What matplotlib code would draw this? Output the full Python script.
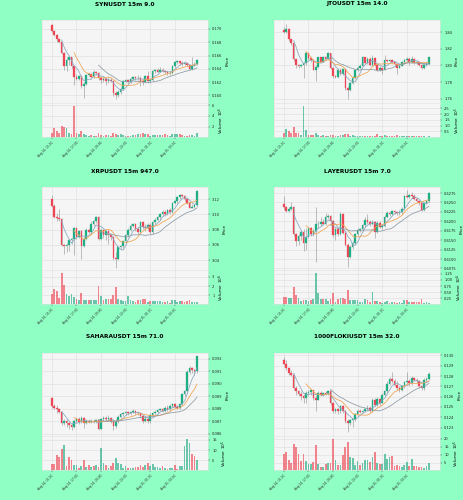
import numpy as np
import pandas as pd
import matplotlib.pyplot as plt
from matplotlib.ticker import FixedLocator, FormatStrFormatter

plt.rcParams['font.family'] = 'DejaVu Sans'

# colours
BG = '#8fffc4'
FACE = '#f5f5f5'
GRID = '#dddddd'
UP = '#1fae84'
DOWN = '#ef4655'
WICK = '#9a9a9a'
MAVS = (5, 10, 20)
MAV_COLORS = ['#8aa6bf', '#f0a24e', '#8c9aa4']

# 60 x 15m candles starting Aug 14 2025 15:00
times = pd.date_range('2025-08-14 15:00', periods=60, freq='15min')
tick_idx = [0, 10, 20, 30, 40, 50]
tick_labels = [times[i].strftime('%b %d, %H:%M') for i in tick_idx]

# ---------------- SYNUSDT ----------------
syn_title = 'SYNUSDT 15m 9.0'
syn_first_open = 0.1706
syn_close = [0.16975, 0.1691, 0.16845, 0.168, 0.16645, 0.16435, 0.16535, 0.16575, 0.16435, 0.1627,
             0.1625, 0.16285, 0.16135, 0.16175, 0.16305, 0.16315, 0.16275, 0.16355, 0.16335, 0.16255,
             0.16225, 0.16245, 0.1621, 0.16235, 0.1622, 0.16035, 0.16, 0.16045, 0.16095, 0.1621,
             0.16225, 0.16205, 0.16245, 0.1627, 0.16255, 0.16265, 0.1622, 0.16205, 0.16285, 0.1621,
             0.16235, 0.1636, 0.16375, 0.16355, 0.16385, 0.16365, 0.16345, 0.1633, 0.1634, 0.16435,
             0.16495, 0.1651, 0.16485, 0.1647, 0.1649, 0.16455, 0.16395, 0.16445, 0.16475, 0.16535]
syn_high = [0.17075, 0.16985, 0.1692, 0.1686, 0.1681, 0.1666, 0.16585, 0.16595, 0.16585, 0.16445,
            0.16325, 0.1631, 0.16295, 0.16195, 0.16325, 0.16345, 0.16335, 0.16375, 0.1637, 0.16345,
            0.16275, 0.1627, 0.1626, 0.16275, 0.1626, 0.16235, 0.1606, 0.16085, 0.16125, 0.16235,
            0.16245, 0.16245, 0.16275, 0.16295, 0.16295, 0.1631, 0.16285, 0.16245, 0.1631, 0.1636,
            0.1626, 0.16385, 0.16395, 0.1641, 0.16425, 0.16405, 0.16385, 0.16365, 0.1636, 0.16455,
            0.16525, 0.16535, 0.16525, 0.1651, 0.1651, 0.16505, 0.16475, 0.16575, 0.16495, 0.16555]
syn_low = [0.1696, 0.16895, 0.1681, 0.16785, 0.16625, 0.16375, 0.1636, 0.1646, 0.1641, 0.1616,
           0.16235, 0.16235, 0.1611, 0.1596, 0.1616, 0.16295, 0.16255, 0.1626, 0.1631, 0.16235,
           0.16185, 0.16195, 0.1616, 0.16185, 0.16195, 0.15985, 0.15945, 0.15975, 0.16025, 0.16085,
           0.16195, 0.16185, 0.16185, 0.16235, 0.16225, 0.16235, 0.16145, 0.1616, 0.16185, 0.16185,
           0.16185, 0.1622, 0.16335, 0.16335, 0.16345, 0.16345, 0.16325, 0.1631, 0.1631, 0.16325,
           0.16415, 0.16475, 0.1646, 0.16445, 0.16455, 0.16435, 0.16375, 0.16385, 0.16435, 0.1646]
syn_vol = [0.8, 1.7, 1.1, 0.8, 2.1, 1.9, 1.7, 0.8, 0.6, 5.8,
           0.9, 0.7, 1.2, 0.6, 0.5, 0.35, 0.5, 0.35, 0.35, 0.9,
           0.5, 0.3, 0.4, 0.5, 0.3, 0.8, 0.7, 0.5, 0.55, 0.45,
           0.3, 0.25, 0.35, 0.4, 0.5, 0.55, 0.6, 0.8, 0.55, 0.6,
           0.35, 0.5, 0.4, 0.4, 0.5, 0.5, 0.55, 0.5, 0.35, 0.6,
           0.7, 0.7, 0.55, 0.5, 0.35, 0.3, 0.4, 0.5, 0.3, 0.8]  # x 1e5
syn_exp = 5
syn_ylim = (0.15885, 0.17135)
syn_yticks = [0.160, 0.162, 0.164, 0.166, 0.168, 0.170]
syn_fmt = '%.3f'
syn_vticks = [2, 4, 6]

# ---------------- JTOUSDT ----------------
jto_title = 'JTOUSDT 15m 14.0'
jto_first_open = 1.8428
jto_close = [1.84, 1.8444, 1.8316, 1.8268, 1.8076, 1.8008, 1.7988, 1.8004, 1.8028, 1.8148,
             1.8088, 1.8068, 1.7948, 1.798, 1.81, 1.8048, 1.81, 1.8084, 1.8148, 1.7968,
             1.7868, 1.786, 1.794, 1.79, 1.7956, 1.7728, 1.7708, 1.7788, 1.7848, 1.794,
             1.7968, 1.7996, 1.81, 1.8028, 1.8084, 1.8004, 1.8088, 1.8004, 1.7948, 1.7968,
             1.7948, 1.8068, 1.806, 1.8068, 1.8044, 1.8012, 1.7972, 1.7996, 1.8036, 1.8068,
             1.8084, 1.8044, 1.8084, 1.8028, 1.8044, 1.8004, 1.7972, 1.8004, 1.8012, 1.81]
jto_high = [1.8468, 1.85, 1.8452, 1.8324, 1.8276, 1.8084, 1.802, 1.802, 1.8044, 1.8168,
            1.8156, 1.81, 1.8076, 1.8008, 1.8108, 1.8108, 1.8116, 1.8116, 1.8164, 1.8156,
            1.7976, 1.7888, 1.7968, 1.7968, 1.7972, 1.7964, 1.7748, 1.7804, 1.7868, 1.7956,
            1.7988, 1.8012, 1.8116, 1.8108, 1.81, 1.81, 1.8128, 1.81, 1.8012, 1.7988,
            1.798, 1.8128, 1.8084, 1.8084, 1.8084, 1.8052, 1.8028, 1.802, 1.8052, 1.8084,
            1.81, 1.81, 1.8116, 1.8092, 1.8068, 1.806, 1.802, 1.802, 1.8036, 1.8108]
jto_low = [1.8388, 1.8396, 1.83, 1.8252, 1.806, 1.7968, 1.7968, 1.7976, 1.7848, 1.8008,
           1.8068, 1.8048, 1.794, 1.7808, 1.7964, 1.8036, 1.8036, 1.8068, 1.8076, 1.7956,
           1.7852, 1.7844, 1.7852, 1.7884, 1.7884, 1.7708, 1.7596, 1.7692, 1.7772, 1.7836,
           1.7928, 1.7956, 1.7988, 1.8012, 1.8012, 1.7988, 1.7996, 1.7988, 1.7932, 1.7928,
           1.79, 1.794, 1.8044, 1.8044, 1.8028, 1.7996, 1.79, 1.7964, 1.7988, 1.802,
           1.8052, 1.8004, 1.8028, 1.8012, 1.8012, 1.7988, 1.7956, 1.7956, 1.7988, 1.8004]
jto_vol = [0.4, 0.7, 0.57, 0.35, 0.9, 0.35, 0.35, 0.23, 2.7, 0.65,
           0.23, 0.23, 0.2, 0.35, 0.17, 0.12, 0.15, 0.12, 0.12, 0.23,
           0.2, 0.12, 0.1, 0.15, 0.18, 0.28, 0.25, 0.1, 0.15, 0.12,
           0.1, 0.08, 0.12, 0.1, 0.1, 0.12, 0.1, 0.12, 0.28, 0.1,
           0.12, 0.18, 0.1, 0.08, 0.1, 0.12, 0.15, 0.12, 0.1, 0.08,
           0.1, 0.12, 0.1, 0.08, 0.1, 0.08, 0.06, 0.08, 0.05, 0.06]  # x 1e5
jto_exp = 5
jto_ylim = (1.7548, 1.8548)
jto_yticks = [1.76, 1.78, 1.80, 1.82, 1.84]
jto_fmt = '%.2f'
jto_vticks = [0.5, 1.0, 1.5, 2.0, 2.5]

# ---------------- XRPUSDT ----------------
xrp_title = 'XRPUSDT 15m 947.0'
xrp_first_open = 3.12
xrp_close = [3.111, 3.0966, 3.09525, 3.09435, 3.06015, 3.05835, 3.06015, 3.066, 3.06735, 3.08265,
             3.0705, 3.07815, 3.05835, 3.06825, 3.0795, 3.07725, 3.08715, 3.09075, 3.0966, 3.06825,
             3.0795, 3.07275, 3.07815, 3.07275, 3.0705, 3.0435, 3.04215, 3.057, 3.05835, 3.06465,
             3.07275, 3.0795, 3.08535, 3.0876, 3.08085, 3.07725, 3.08985, 3.084, 3.08175, 3.08625,
             3.07725, 3.08985, 3.093, 3.09615, 3.10065, 3.1029, 3.10065, 3.10515, 3.10335, 3.1146,
             3.11685, 3.12225, 3.1254, 3.1245, 3.12, 3.1146, 3.10875, 3.10965, 3.1119, 3.13035]
xrp_high = [3.1254, 3.11325, 3.102, 3.1065, 3.09525, 3.0615, 3.06285, 3.06825, 3.06915, 3.084,
            3.084, 3.0795, 3.0795, 3.0705, 3.08175, 3.08265, 3.09075, 3.09255, 3.0984, 3.0975,
            3.08175, 3.08085, 3.0795, 3.07905, 3.07455, 3.07185, 3.05025, 3.05925, 3.06015, 3.06645,
            3.07455, 3.08175, 3.08715, 3.08895, 3.08895, 3.084, 3.09075, 3.09075, 3.08715, 3.0885,
            3.0885, 3.09165, 3.09525, 3.09795, 3.10245, 3.10515, 3.10515, 3.10695, 3.10785, 3.11595,
            3.11865, 3.12405, 3.12675, 3.12675, 3.12585, 3.12135, 3.11595, 3.11325, 3.11415, 3.13125]
xrp_low = [3.10965, 3.09525, 3.09165, 3.09075, 3.05835, 3.048, 3.05025, 3.0525, 3.0615, 3.04665,
           3.06825, 3.06915, 3.04215, 3.057, 3.066, 3.075, 3.0759, 3.08535, 3.0885, 3.066,
           3.066, 3.06915, 3.066, 3.0615, 3.066, 3.04035, 3.03, 3.04035, 3.05475, 3.05565,
           3.06285, 3.07095, 3.07815, 3.08355, 3.07815, 3.075, 3.07545, 3.08085, 3.07815, 3.0795,
           3.075, 3.075, 3.08715, 3.09075, 3.093, 3.0975, 3.09795, 3.09885, 3.10065, 3.10155,
           3.11325, 3.11505, 3.12045, 3.12225, 3.11685, 3.11325, 3.10785, 3.10785, 3.10875, 3.10965]
xrp_vol = [1.1, 1.65, 1.5, 0.75, 3.4, 2.15, 1.1, 0.9, 1.1, 0.8,
           0.65, 0.45, 1.3, 0.45, 0.45, 0.45, 0.45, 0.5, 0.5, 2.05,
           0.9, 0.45, 0.55, 0.55, 0.55, 1.05, 1.85, 0.55, 0.45, 0.35,
           0.35, 0.9, 0.45, 0.35, 0.3, 0.45, 0.45, 0.65, 0.65, 0.3,
           0.35, 0.35, 0.35, 0.35, 0.35, 0.3, 0.3, 0.35, 0.2, 0.45,
           0.45, 0.3, 0.35, 0.35, 0.3, 0.35, 0.5, 0.3, 0.3, 0.3]  # x 1e6
xrp_exp = 6
xrp_ylim = (3.0273, 3.1358)
xrp_yticks = [3.04, 3.06, 3.08, 3.10, 3.12]
xrp_fmt = '%.2f'
xrp_vticks = [1, 2, 3]

# ---------------- LAYERUSDT ----------------
layer_title = 'LAYERUSDT 15m 7.0'
layer_first_open = 0.62462
layer_close = [0.62372, 0.62282, 0.62327, 0.6239, 0.61652, 0.6149, 0.61607, 0.61724, 0.61427, 0.6158,
               0.61814, 0.61652, 0.61742, 0.61922, 0.6194, 0.61994, 0.6194, 0.62102, 0.62129, 0.62012,
               0.61625, 0.61787, 0.61652, 0.62192, 0.61697, 0.61382, 0.61067, 0.6131, 0.61427, 0.61652,
               0.6176, 0.61787, 0.61895, 0.6203, 0.61994, 0.6194, 0.61994, 0.61724, 0.61967, 0.6185,
               0.61877, 0.6212, 0.6221, 0.62192, 0.62264, 0.62237, 0.6221, 0.62237, 0.62327, 0.6266,
               0.62642, 0.62687, 0.6266, 0.62597, 0.62534, 0.6248, 0.623, 0.6248, 0.62534, 0.62759]
layer_high = [0.6266, 0.62417, 0.6239, 0.62507, 0.62417, 0.61697, 0.61652, 0.6176, 0.61787, 0.61832,
              0.6185, 0.6185, 0.61787, 0.6239, 0.62012, 0.62102, 0.62057, 0.6221, 0.62192, 0.62174,
              0.6203, 0.61832, 0.6185, 0.62237, 0.6221, 0.61742, 0.61427, 0.61382, 0.61472, 0.61697,
              0.61814, 0.61832, 0.6194, 0.62102, 0.62192, 0.6203, 0.6203, 0.62012, 0.62012, 0.62012,
              0.61922, 0.62165, 0.62264, 0.62282, 0.623, 0.623, 0.62282, 0.623, 0.62372, 0.62696,
              0.62822, 0.62714, 0.62777, 0.62714, 0.62642, 0.6257, 0.62507, 0.62507, 0.6257, 0.62786]
layer_low = [0.62327, 0.62246, 0.62246, 0.623, 0.61607, 0.61337, 0.61364, 0.61517, 0.61202, 0.61247,
             0.61562, 0.61607, 0.61607, 0.60932, 0.61832, 0.61877, 0.61904, 0.61904, 0.62057, 0.61922,
             0.6158, 0.61517, 0.61607, 0.61625, 0.6167, 0.61337, 0.60797, 0.61022, 0.61274, 0.61382,
             0.61607, 0.61724, 0.61742, 0.6185, 0.61922, 0.61877, 0.61904, 0.61562, 0.61688, 0.61814,
             0.61787, 0.6185, 0.62084, 0.62147, 0.62174, 0.62192, 0.62174, 0.62174, 0.62192, 0.623,
             0.62624, 0.62606, 0.62624, 0.6257, 0.62507, 0.62444, 0.62282, 0.62264, 0.62462, 0.62507]
layer_vol = [0.31, 0.31, 0.25, 0.25, 0.72, 0.39, 0.28, 0.14, 0.17, 0.17,
             0.14, 0.17, 0.21, 1.28, 0.47, 0.21, 0.21, 0.21, 0.14, 0.21,
             0.47, 0.11, 0.21, 0.28, 0.28, 0.24, 0.58, 0.17, 0.17, 0.17,
             0.17, 0.08, 0.11, 0.21, 0.17, 0.11, 0.49, 0.14, 0.14, 0.08,
             0.07, 0.11, 0.14, 0.07, 0.11, 0.08, 0.06, 0.08, 0.06, 0.17,
             0.17, 0.11, 0.11, 0.11, 0.08, 0.08, 0.24, 0.06, 0.08, 0.06]  # x 1e6
layer_exp = 6
layer_ylim = (0.6071, 0.6291)
layer_yticks = [0.6075, 0.6100, 0.6125, 0.6150, 0.6175, 0.6200, 0.6225, 0.6250, 0.6275]
layer_fmt = '%.4f'
layer_vticks = [0.25, 0.50, 0.75, 1.00, 1.25]

# ---------------- SAHARAUSDT ----------------
sahara_title = 'SAHARAUSDT 15m 71.0'
sahara_first_open = 0.08887
sahara_close = [0.08821, 0.08807, 0.08794, 0.08773, 0.08688, 0.08701, 0.08683, 0.08667, 0.08656, 0.08701,
                0.0872, 0.08693, 0.08728, 0.08683, 0.08701, 0.08693, 0.08701, 0.08693, 0.08707, 0.0864,
                0.08715, 0.08728, 0.08715, 0.08728, 0.08701, 0.08661, 0.08701, 0.08736, 0.08754, 0.08762,
                0.08773, 0.08762, 0.08773, 0.08781, 0.08768, 0.08762, 0.08741, 0.08701, 0.0872, 0.08701,
                0.08746, 0.08762, 0.08773, 0.08789, 0.08794, 0.08784, 0.08807, 0.08794, 0.08821, 0.08834,
                0.08815, 0.08807, 0.08834, 0.08914, 0.0894, 0.09091, 0.09126, 0.09107, 0.09099, 0.09219]
sahara_high = [0.08895, 0.08834, 0.08826, 0.08807, 0.08781, 0.0872, 0.08715, 0.08693, 0.08688, 0.08715,
               0.08736, 0.08733, 0.08741, 0.08736, 0.08715, 0.08715, 0.08715, 0.08715, 0.0872, 0.08715,
               0.08725, 0.08741, 0.08741, 0.08746, 0.08736, 0.08715, 0.08715, 0.08746, 0.08768, 0.08773,
               0.08784, 0.08784, 0.08784, 0.08794, 0.08789, 0.08784, 0.08773, 0.08752, 0.08741, 0.08736,
               0.08762, 0.08773, 0.08789, 0.08799, 0.08807, 0.08807, 0.08821, 0.08826, 0.08834, 0.08842,
               0.08842, 0.08826, 0.08847, 0.08927, 0.08953, 0.09107, 0.09139, 0.09134, 0.09118, 0.09224]
sahara_low = [0.08807, 0.08794, 0.08768, 0.08762, 0.08667, 0.08667, 0.08656, 0.0864, 0.0863, 0.08648,
              0.08688, 0.08675, 0.08683, 0.08648, 0.08675, 0.08683, 0.08683, 0.08683, 0.08683, 0.0863,
              0.08635, 0.08701, 0.08701, 0.08704, 0.08688, 0.0863, 0.08648, 0.08688, 0.08725, 0.08741,
              0.08746, 0.08746, 0.08752, 0.08762, 0.08754, 0.08752, 0.08725, 0.08688, 0.08693, 0.08688,
              0.08688, 0.08736, 0.08754, 0.08762, 0.08781, 0.08773, 0.08773, 0.08784, 0.08784, 0.08807,
              0.08805, 0.08794, 0.08799, 0.08826, 0.089, 0.08927, 0.09081, 0.09086, 0.09073, 0.09086]
sahara_vol = [3.2, 3.2, 7.5, 6.7, 10.7, 12.3, 2.3, 6.7, 5.3, 2.8,
              2.8, 1.4, 2.3, 4.9, 1.8, 2.8, 1.8, 2.3, 2.8, 1.8,
              10.9, 3.9, 2.8, 1.1, 2.3, 3.5, 6.1, 3.5, 3.2, 1.4,
              2.3, 1.1, 1.4, 1.4, 1.8, 1.8, 2.8, 1.8, 2.8, 3.5,
              2.3, 3.2, 1.8, 1.8, 1.4, 2.1, 1.1, 0.7, 1.4, 1.1,
              2.6, 0.9, 2.3, 2.3, 11.9, 15.4, 13.3, 8.1, 7.0, 5.3]  # x 1e5
sahara_exp = 5
sahara_ylim = (0.08582, 0.09245)
sahara_yticks = [0.086, 0.087, 0.088, 0.089, 0.090, 0.091, 0.092]
sahara_fmt = '%.3f'
sahara_vticks = [5, 10, 15]

# ---------------- 1000FLOKIUSDT ----------------
floki_title = '1000FLOKIUSDT 15m 32.0'
floki_first_open = 0.12952
floki_close = [0.1292, 0.12878, 0.1283, 0.12814, 0.12685, 0.12653, 0.1263, 0.12605, 0.12589, 0.12637,
               0.12643, 0.12662, 0.12589, 0.12572, 0.12637, 0.12621, 0.12637, 0.1263, 0.12653, 0.1254,
               0.1246, 0.12476, 0.1246, 0.12508, 0.1246, 0.12363, 0.12347, 0.12373, 0.1238, 0.12428,
               0.1246, 0.1245, 0.1246, 0.12476, 0.12492, 0.1246, 0.12572, 0.12524, 0.12579, 0.1254,
               0.12621, 0.12653, 0.12727, 0.12772, 0.12749, 0.12717, 0.12685, 0.12669, 0.12701, 0.1274,
               0.12749, 0.12733, 0.12781, 0.12765, 0.12749, 0.12701, 0.12685, 0.12765, 0.12772, 0.12823]
floki_high = [0.12984, 0.12958, 0.12888, 0.12855, 0.1283, 0.12701, 0.12669, 0.12653, 0.1263, 0.12653,
              0.12669, 0.12675, 0.12669, 0.12621, 0.12653, 0.12653, 0.1265, 0.12653, 0.12669, 0.12662,
              0.12547, 0.12492, 0.12492, 0.12521, 0.12515, 0.1247, 0.1238, 0.12386, 0.12396, 0.12444,
              0.12476, 0.12476, 0.1247, 0.12492, 0.12515, 0.12508, 0.12589, 0.12589, 0.12598, 0.12589,
              0.12637, 0.12669, 0.12749, 0.12791, 0.12836, 0.12772, 0.12749, 0.12701, 0.12717, 0.12749,
              0.12836, 0.12772, 0.12797, 0.12791, 0.12781, 0.12765, 0.12717, 0.12781, 0.12791, 0.12836]
floki_low = [0.1291, 0.12862, 0.12814, 0.12797, 0.12669, 0.12621, 0.12605, 0.12572, 0.1254, 0.1254,
             0.12611, 0.12621, 0.12572, 0.1246, 0.12566, 0.12611, 0.12611, 0.12621, 0.12621, 0.12524,
             0.12437, 0.12437, 0.12428, 0.12444, 0.12437, 0.12347, 0.12257, 0.12322, 0.12309, 0.12363,
             0.12418, 0.12437, 0.12437, 0.1245, 0.1246, 0.1245, 0.1245, 0.12508, 0.12508, 0.12524,
             0.12534, 0.12605, 0.12637, 0.12717, 0.12733, 0.12701, 0.12669, 0.12643, 0.12653, 0.12685,
             0.12727, 0.12701, 0.12717, 0.12749, 0.12733, 0.12685, 0.12669, 0.12669, 0.1274, 0.12759]
floki_vol = [10.4, 11.5, 6.7, 4.6, 16.5, 15, 10.2, 6.3, 10.4, 6.3,
             4.2, 4.2, 5.6, 15.8, 4.2, 2.1, 2.5, 4.2, 5, 5,
             19.6, 6.7, 3.5, 3.5, 9.8, 15, 18.1, 8.3, 7.7, 3.5,
             6.3, 3.5, 4.6, 6.7, 6.7, 5.6, 8.3, 11.9, 5, 4.2,
             4.2, 10.2, 7.1, 8.8, 9.4, 2.9, 3.75, 2.9, 2.1, 3.5,
             5.6, 2.9, 7.3, 2.9, 2.9, 2.1, 2.5, 1.5, 2.9, 4.6]  # x 1e5
floki_exp = 5
floki_ylim = (0.12219, 0.13023)
floki_yticks = [0.123, 0.124, 0.125, 0.126, 0.127, 0.128, 0.129, 0.130]
floki_fmt = '%.3f'
floki_vticks = [5, 10, 15, 20]

panels = [
    (syn_title, syn_first_open, syn_close, syn_high, syn_low, syn_vol, syn_exp,
     syn_ylim, syn_yticks, syn_fmt, syn_vticks),
    (jto_title, jto_first_open, jto_close, jto_high, jto_low, jto_vol, jto_exp,
     jto_ylim, jto_yticks, jto_fmt, jto_vticks),
    (xrp_title, xrp_first_open, xrp_close, xrp_high, xrp_low, xrp_vol, xrp_exp,
     xrp_ylim, xrp_yticks, xrp_fmt, xrp_vticks),
    (layer_title, layer_first_open, layer_close, layer_high, layer_low, layer_vol, layer_exp,
     layer_ylim, layer_yticks, layer_fmt, layer_vticks),
    (sahara_title, sahara_first_open, sahara_close, sahara_high, sahara_low, sahara_vol, sahara_exp,
     sahara_ylim, sahara_yticks, sahara_fmt, sahara_vticks),
    (floki_title, floki_first_open, floki_close, floki_high, floki_low, floki_vol, floki_exp,
     floki_ylim, floki_yticks, floki_fmt, floki_vticks),
]

# layout in pixels
W, H = 464, 500
COL_X = [42, 274]
ROW_Y = [20, 187, 353]
AX_W = 166
PRICE_H = 83
VOL_H = 34


def rect(x, y, w, h):
    return [x / W, 1 - (y + h) / H, w / W, h / H]


def style_axis(ax):
    ax.set_facecolor(FACE)
    ax.grid(True, color=GRID, lw=0.4)
    ax.set_axisbelow(True)
    for s in ax.spines.values():
        s.set_color('#e2e2e2')
        s.set_linewidth(0.4)
    ax.yaxis.tick_right()
    ax.yaxis.set_label_position('right')
    ax.tick_params(labelsize=2.6, length=1.5, width=0.3, pad=1.5, colors='#222222')


fig = plt.figure(figsize=(W / 100, H / 100), dpi=100)
fig.patch.set_facecolor(BG)

for k, (title, o0, close, high, low, vol, exp, ylim, yticks, fmt, vticks) in enumerate(panels):
    col, row = k % 2, k // 2
    x0, y0 = COL_X[col], ROW_Y[row]
    axp = fig.add_axes(rect(x0, y0, AX_W, PRICE_H))
    axv = fig.add_axes(rect(x0, y0 + PRICE_H, AX_W, VOL_H), sharex=axp)

    c = np.array(close)
    o = np.array([o0] + close[:-1])
    h = np.array(high)
    l = np.array(low)
    v = np.array(vol)
    x = np.arange(len(c))
    cols = np.where(c >= o, UP, DOWN)

    style_axis(axp)
    style_axis(axv)

    axp.vlines(x, l, h, color=WICK, lw=0.45, zorder=2)
    axp.bar(x, np.abs(c - o), bottom=np.minimum(o, c), width=0.65, color=cols,
            edgecolor=cols, linewidth=0.2, zorder=3)
    for m, mc in zip(MAVS, MAV_COLORS):
        ma = pd.Series(c).rolling(m).mean()
        axp.plot(x, ma, color=mc, lw=0.55, zorder=4)

    axv.bar(x, v, width=0.7, color=cols, alpha=0.65, linewidth=0, zorder=3)

    axp.set_xlim(-4, len(c) + 3.5)
    axp.set_ylim(*ylim)
    axp.yaxis.set_major_locator(FixedLocator(yticks))
    axp.yaxis.set_major_formatter(FormatStrFormatter(fmt))
    axp.set_ylabel('Price', fontsize=3.0, labelpad=2)
    plt.setp(axp.get_xticklabels(), visible=False)

    axv.set_ylim(0.3 * v.min(), 1.1 * v.max())
    axv.yaxis.set_major_locator(FixedLocator(vticks))
    axv.set_ylabel('Volume  $10^{%d}$' % exp, fontsize=3.0, labelpad=2)
    axv.set_xticks(tick_idx)
    axv.set_xticklabels(tick_labels, rotation=45, ha='right', rotation_mode='anchor',
                        fontsize=2.1)

    fig.text((x0 + AX_W / 2) / W, 1 - (y0 - 16) / H, title, ha='center', va='center',
             fontsize=4.2, fontweight='bold')

fig.savefig('out.png', dpi=100, facecolor=BG)
